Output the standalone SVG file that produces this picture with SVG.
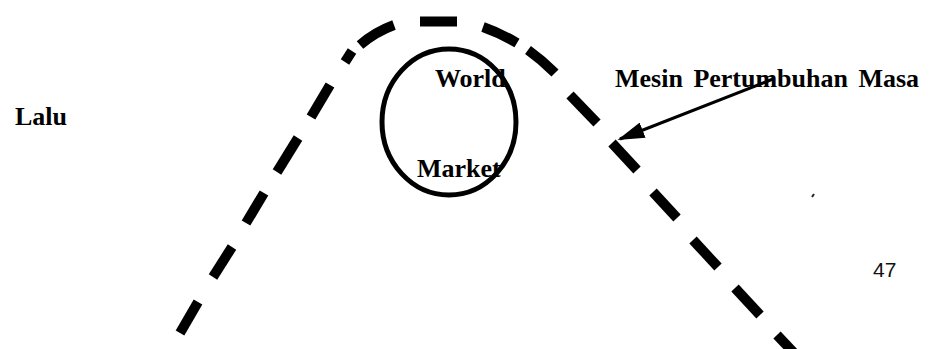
<svg xmlns="http://www.w3.org/2000/svg" width="931" height="349" viewBox="0 0 931 349">
<defs>
<style>
.lbl{font-family:"Liberation Serif","Times New Roman",serif;font-weight:bold;font-size:26px;fill:#000}
.num{font-family:"Liberation Sans",Arial,sans-serif;font-size:21px;fill:#111}
.d{fill:none;stroke:#000;stroke-width:10;stroke-linecap:butt}
</style>
<marker id="ah" viewBox="0 0 10 6" refX="9" refY="3" markerWidth="9" markerHeight="5.4" markerUnits="strokeWidth" orient="auto">
<path d="M0,0 L10,3 L0,6 z" fill="#000"/>
</marker>
</defs>
<rect width="931" height="349" fill="#fff"/>
<g id="curve">
<path class="d" d="M180,333 L198,302"/>
<path class="d" d="M213,277 L232,247"/>
<path class="d" d="M246,223 L264,193"/>
<path class="d" d="M277,172 L298,138"/>
<path class="d" d="M311,117 L330,85"/>
<path class="d" d="M345,62 L352,51"/>
<path class="d" d="M360,45 Q375,32 394,25"/>
<path class="d" d="M420,21.5 L457,21.5"/>
<path class="d" d="M483,27 Q500,33 517,43"/>
<path class="d" d="M528,50 Q542,60 555,73"/>
<path class="d" d="M570,95 L597,123"/>
<path class="d" d="M612,143 L637,170"/>
<path class="d" d="M653,192 L677,218"/>
<path class="d" d="M693,240 L718,267"/>
<path class="d" d="M735,288 L760,315"/>
<path class="d" d="M777,335 L795,354"/>
</g>
<g id="world-market">
<text class="lbl" x="435" y="87">World</text>
<text class="lbl" x="417" y="177">Market</text>
<ellipse cx="449" cy="122" rx="67" ry="73" fill="none" stroke="#000" stroke-width="5"/>
</g>
<g id="lalu"><text class="lbl" x="15" y="125">Lalu</text></g>
<g id="mesin"><text class="lbl" x="615" y="87" word-spacing="4">Mesin Pertumbuhan Masa</text></g>
<g id="page"><text class="num" x="873" y="277">47</text></g>
<g id="connectors">
<line x1="773" y1="79" x2="620" y2="139" stroke="#000" stroke-width="3" marker-end="url(#ah)"/>
</g>
<line x1="812" y1="197" x2="814" y2="194" stroke="#223" stroke-width="2"/>
</svg>
